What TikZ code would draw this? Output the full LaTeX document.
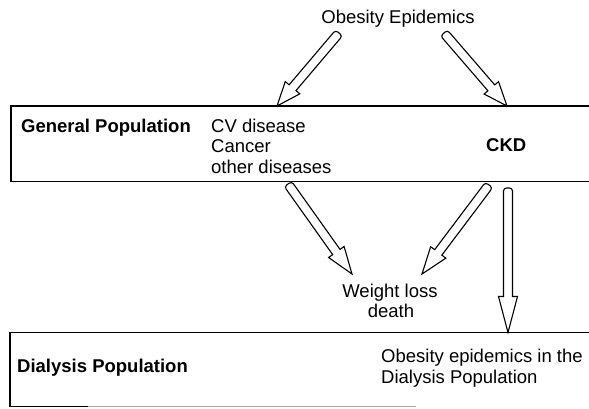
\documentclass[tikz,border=0pt]{standalone}
\usepackage{fontspec}
\setmainfont{Liberation Sans}
\usetikzlibrary{calc}
\tikzset{
  boxline/.style={draw=black, line width=1.3pt},
  fadeline/.style={draw=black!35, line width=1.2pt},
  blockarrow/.style={draw=black, line width=1.1pt, fill=white, line join=miter},
  lbl/.style={inner sep=0pt, font=\fontsize{18.5}{21}\selectfont},
  blbl/.style={inner sep=0pt, font=\fontsize{18.5}{21}\selectfont\bfseries},
}
% #1 tail, #2 tip, #3 head length
\newcommand\blkarrow[3]{%
  \coordinate (hb) at ($(#2)!#3!(#1)$);
  \draw[blockarrow] ($(hb)!4.5pt!90:(#2)$) [rounded corners=3pt] -- ($(#1)!4.5pt!90:(#2)$) -- ($(#1)!4.5pt!-90:(#2)$) [sharp corners] -- ($(hb)!4.5pt!-90:(#2)$) -- ($(hb)!9.5pt!-90:(#2)$) -- (#2) -- ($(hb)!9.5pt!90:(#2)$) -- cycle;}
\begin{document}
\begin{tikzpicture}[x=1pt,y=-1pt]
\useasboundingbox (0,0) rectangle (589,409);
% boxes
\draw[boxline] (589,106) -- (11,106) -- (11,181.5) -- (589,181.5);
\draw[boxline] (589,332.5) -- (10,332.5) -- (10,406.5) -- (88,406.5);
\draw[fadeline] (88,406.5) -- (416,406.5);
% texts
\node[lbl, anchor=base] (obe) at (398,23.5) {Obesity Epidemics};
\node[blbl, anchor=base west] (gp) at (21,132.5) {General Population};
\node[lbl, anchor=base west] (cv) at (211,132.5) {CV disease};
\node[lbl, anchor=base west] (can) at (211,153) {Cancer};
\node[lbl, anchor=base west] (oth) at (211,173.5) {other diseases};
\node[blbl, anchor=base west] (ckd) at (486,151.5) {CKD};
\node[lbl, anchor=base] (wl) at (390,297.5) {Weight loss};
\node[lbl, anchor=base] (death) at (391,317.5) {death};
\node[blbl, anchor=base west] (dp) at (17,372.5) {Dialysis Population};
\node[lbl, anchor=base west] (oe1) at (381,362.5) {Obesity epidemics in the};
\node[lbl, anchor=base west] (oe2) at (381,383.5) {Dialysis Population};
% arrow end points
\coordinate (t1) at (339,33);   \coordinate (p1) at (277,106);
\coordinate (t2) at (444,33);   \coordinate (p2) at (507,106);
\coordinate (t3) at (288,184);  \coordinate (p3) at (352,274);
\coordinate (t4) at (489,185);  \coordinate (p4) at (422,274);
\coordinate (t5) at (508,188);  \coordinate (p5) at (508,332.5);
% arrows
\blkarrow{t1}{p1}{24pt}
\blkarrow{t2}{p2}{24pt}
\blkarrow{t3}{p3}{27pt}
\blkarrow{t4}{p4}{27pt}
\blkarrow{t5}{p5}{36pt}
\end{tikzpicture}
\end{document}
